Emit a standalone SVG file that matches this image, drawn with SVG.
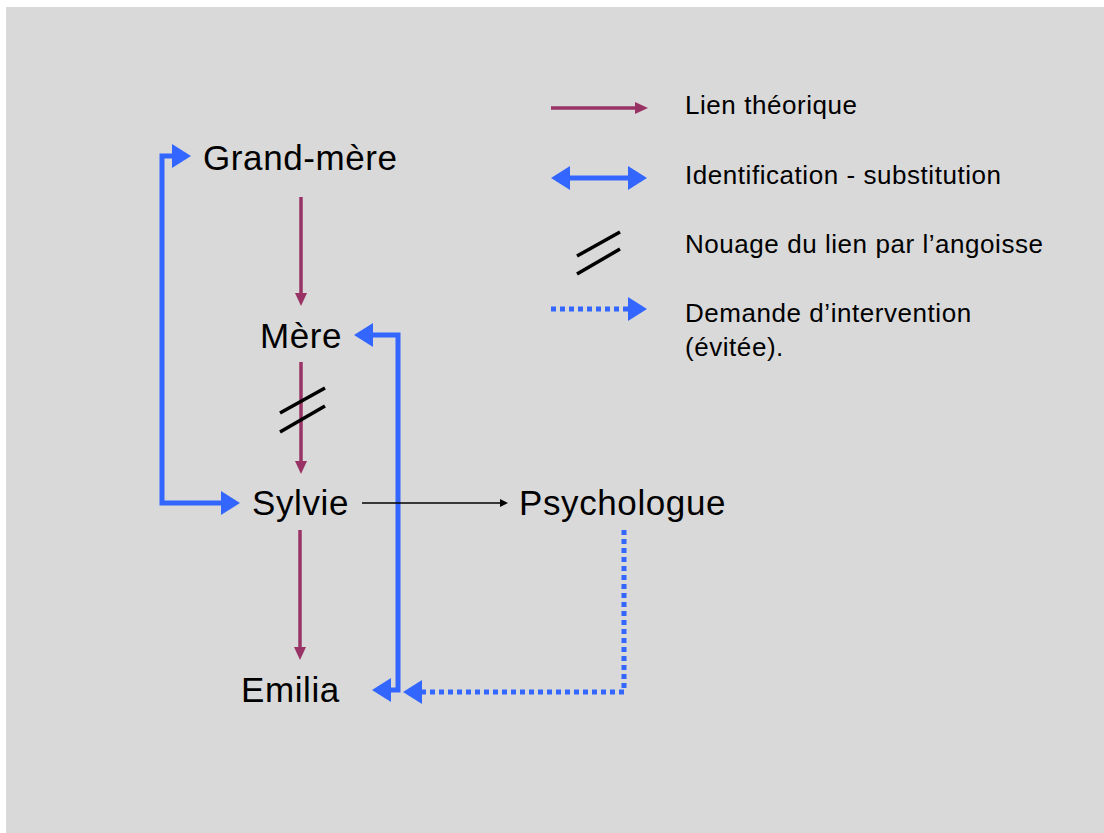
<svg xmlns="http://www.w3.org/2000/svg" width="1104" height="833" viewBox="0 0 1104 833">
<style>
.lbl{font-family:"Liberation Sans",Arial,sans-serif;font-size:35px;letter-spacing:0.6px;fill:#000}
.leg{font-family:"Liberation Sans",Arial,sans-serif;font-size:26px;letter-spacing:0.55px;fill:#000}
.th{fill:none;stroke:#993366;stroke-width:3.5}
.id{fill:none;stroke:#3366ff;stroke-width:5}
.dm{fill:none;stroke:#3366ff;stroke-width:5;stroke-dasharray:5 4}
.hash{stroke:#000;stroke-width:3.5}
.ln{fill:none;stroke:#000;stroke-width:1.3}
</style>
<defs>
<marker id="mTh" markerUnits="userSpaceOnUse" markerWidth="14" markerHeight="12" refX="0" refY="6" orient="auto"><path d="M0,0 L13,6 L0,12 Z" fill="#993366"/></marker>
<marker id="mId" markerUnits="userSpaceOnUse" markerWidth="20" markerHeight="24" refX="0" refY="12" orient="auto-start-reverse"><path d="M0,0 L19,12 L0,24 Z" fill="#3366ff"/></marker>
<marker id="mLn" markerUnits="userSpaceOnUse" markerWidth="9" markerHeight="8" refX="0" refY="4" orient="auto"><path d="M0,0 L8,4 L0,8 Z" fill="#000"/></marker>
</defs>
<rect x="6" y="7" width="1098" height="826" fill="#d9d9d9"/>
<g id="connectors">
<path class="th" d="M301,197 V293" marker-end="url(#mTh)"/>
<path class="th" d="M301,362 V461" marker-end="url(#mTh)"/>
<path class="th" d="M300,530 V647" marker-end="url(#mTh)"/>
<line class="hash" x1="280" y1="413" x2="325" y2="388"/>
<line class="hash" x1="280" y1="432" x2="325" y2="406"/>
<path class="id" d="M172,156 H162 V503 H221" marker-start="url(#mId)" marker-end="url(#mId)"/>
<path class="id" d="M373,335 H398 V690 H391" marker-start="url(#mId)" marker-end="url(#mId)"/>
<path class="dm" d="M624,530 V692 H422" marker-end="url(#mId)"/>
<path class="ln" d="M362,503 H500" marker-end="url(#mLn)"/>
</g>
<g id="node-grandmere"><text class="lbl" x="203" y="170">Grand-mère</text></g>
<g id="node-mere"><text class="lbl" x="260" y="348">Mère</text></g>
<g id="node-sylvie"><text class="lbl" x="252" y="515">Sylvie</text></g>
<g id="node-emilia"><text class="lbl" x="241" y="702">Emilia</text></g>
<g id="node-psychologue"><text class="lbl" x="519" y="515">Psychologue</text></g>
<g id="legend">
<path class="th" d="M551,108 H635" marker-end="url(#mTh)"/>
<text class="leg" x="685" y="114">Lien théorique</text>
<path class="id" d="M570,178 H628" marker-start="url(#mId)" marker-end="url(#mId)"/>
<text class="leg" x="685" y="184">Identification - substitution</text>
<line class="hash" x1="577" y1="256" x2="620" y2="232"/>
<line class="hash" x1="577" y1="274" x2="620" y2="249"/>
<text class="leg" x="685" y="253">Nouage du lien par l’angoisse</text>
<path class="dm" d="M551,309 H628" marker-end="url(#mId)"/>
<text class="leg" x="685" y="322">Demande d’intervention</text>
<text class="leg" x="685" y="356">(évitée).</text>
</g>
</svg>
